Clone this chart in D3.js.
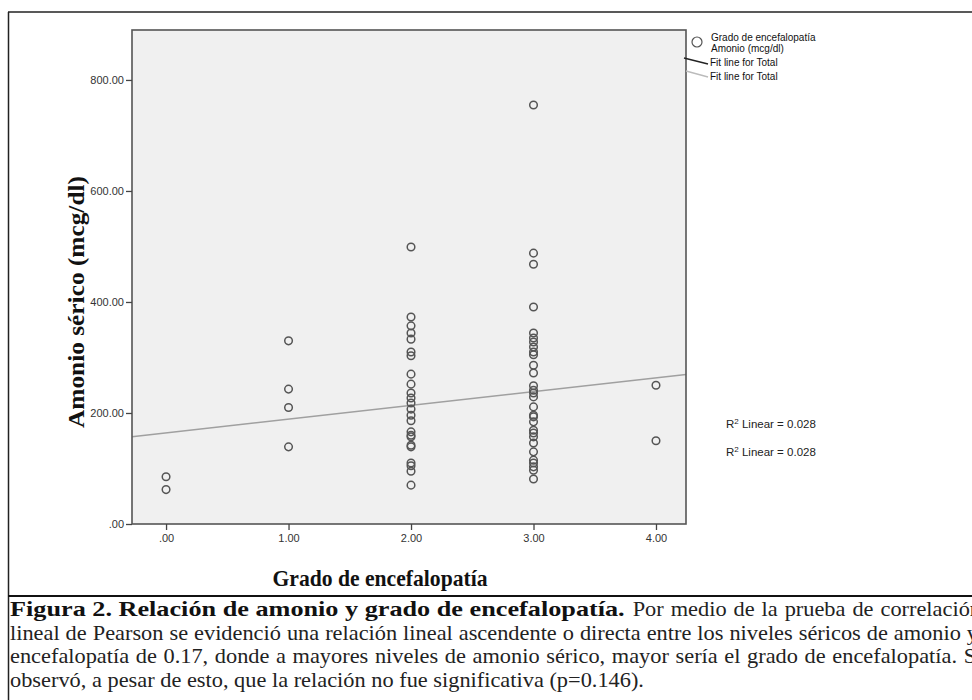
<!DOCTYPE html>
<html>
<head>
<meta charset="utf-8">
<script src="https://cdn.jsdelivr.net/npm/d3@7"></script>
<style>
  html, body { margin: 0; padding: 0; background: #fff; overflow: hidden; }
  svg { display: block; }
</style>
</head>
<body>
<svg id="chart" width="972" height="700"></svg>
<script>
// ---- data ----
const xTicks = [0, 1, 2, 3, 4];
const xTickLabels = [".00", "1.00", "2.00", "3.00", "4.00"];
const yTicks = [0, 200, 400, 600, 800];
const yTickLabels = [".00", "200.00", "400.00", "600.00", "800.00"];
const grade0 = [85, 62];
const grade1 = [330, 243, 210, 139];
const grade2 = [499, 373, 357, 344, 333, 310, 303, 270, 252, 236, 227, 218, 207, 196, 186, 166, 160, 157, 142, 139, 110, 105, 95, 70];
const grade3 = [755, 488, 468, 391, 344, 335, 328, 319, 310, 305, 286, 272, 249, 241, 236, 229, 211, 196, 193, 184, 169, 164, 157, 146, 130, 115, 110, 103, 97, 81];
const grade4 = [250, 150];
const fitLine = [164, 24.8]; // intercept, slope
const legendLabels = ["Grado de encefalopatía", "Amonio (mcg/dl)", "Fit line for Total", "Fit line for Total"];
const r2Labels = ["0.028", "0.028"];
const xTitle = "Grado de encefalopatía";
const yTitle = "Amonio sérico (mcg/dl)";
const captionBold = "Figura 2. Relación de amonio y grado de encefalopatía.";
const captionLines = [
  "Por medio de la prueba de correlación",
  "lineal de Pearson se evidenció una relación lineal ascendente o directa entre los niveles séricos de amonio y",
  "encefalopatía de 0.17, donde a mayores niveles de amonio sérico, mayor sería el grado de encefalopatía. Se",
  "observó, a pesar de esto, que la relación no fue significativa (p=0.146)."
];

// ---- drawing ----
const svg = d3.select("#chart");
const plot = { left: 132, top: 30, right: 686, bottom: 524 };

const x = d3.scaleLinear().domain([-0.278, 4.245]).range([plot.left, plot.right]);
const y = d3.scaleLinear().domain([0, 890]).range([plot.bottom, plot.top]);

// outer frame
svg.append("line").attr("x1", 8).attr("x2", 972).attr("y1", 12).attr("y2", 12)
  .attr("stroke", "#222").attr("stroke-width", 1.5);
svg.append("line").attr("x1", 8.5).attr("x2", 8.5).attr("y1", 12).attr("y2", 700)
  .attr("stroke", "#222").attr("stroke-width", 1.5);
svg.append("line").attr("x1", 8).attr("x2", 972).attr("y1", 596).attr("y2", 596)
  .attr("stroke", "#111").attr("stroke-width", 2);

// plot background
svg.append("rect")
  .attr("x", plot.left).attr("y", plot.top)
  .attr("width", plot.right - plot.left).attr("height", plot.bottom - plot.top)
  .attr("fill", "#f0f0f0");

// fit line
const fx0 = x.domain()[0], fx1 = x.domain()[1];
svg.append("line")
  .attr("x1", x(fx0)).attr("y1", y(fitLine[0] + fitLine[1] * fx0))
  .attr("x2", x(fx1)).attr("y2", y(fitLine[0] + fitLine[1] * fx1))
  .attr("stroke", "#a0a0a0").attr("stroke-width", 1.5);

// points
const groups = [grade0, grade1, grade2, grade3, grade4];
const points = [];
groups.forEach((g, i) => g.forEach(v => points.push({ cat: xTicks[i], v })));
svg.append("g").selectAll("circle").data(points).join("circle")
  .attr("cx", d => x(d.cat)).attr("cy", d => y(d.v)).attr("r", 3.8)
  .attr("fill", "none").attr("stroke", "#555").attr("stroke-width", 1.5);

// plot border
svg.append("rect")
  .attr("x", plot.left).attr("y", plot.top)
  .attr("width", plot.right - plot.left).attr("height", plot.bottom - plot.top)
  .attr("fill", "none").attr("stroke", "#555").attr("stroke-width", 1.6);

// axes
const yAxis = d3.axisLeft(y).tickValues(yTicks)
  .tickFormat((d, i) => yTickLabels[i]).tickSize(6).tickPadding(2);
const gy = svg.append("g").attr("transform", `translate(${plot.left},0)`).call(yAxis);
gy.select(".domain").remove();
gy.selectAll("line").attr("stroke", "#444").attr("stroke-width", 1.3);
gy.selectAll("text").attr("font-family", "Arial, 'Liberation Sans', sans-serif")
  .attr("font-size", 11).attr("fill", "#333");

const xAxis = d3.axisBottom(x).tickValues(xTicks)
  .tickFormat((d, i) => xTickLabels[i]).tickSize(6).tickPadding(4);
const gx = svg.append("g").attr("transform", `translate(0,${plot.bottom})`).call(xAxis);
gx.select(".domain").remove();
gx.selectAll("line").attr("stroke", "#444").attr("stroke-width", 1.3);
gx.selectAll("text").attr("font-family", "Arial, 'Liberation Sans', sans-serif")
  .attr("font-size", 11).attr("fill", "#333");

// axis titles
svg.append("text")
  .attr("transform", "translate(84,302) rotate(-90)")
  .attr("text-anchor", "middle")
  .attr("font-family", "'Liberation Serif', 'Times New Roman', serif")
  .attr("font-weight", "bold").attr("font-size", 23).attr("fill", "#111")
  .attr("textLength", 252).attr("lengthAdjust", "spacingAndGlyphs")
  .text(yTitle);

svg.append("text")
  .attr("x", 380).attr("y", 586).attr("text-anchor", "middle")
  .attr("font-family", "'Liberation Serif', 'Times New Roman', serif")
  .attr("font-weight", "bold").attr("font-size", 23).attr("fill", "#111")
  .attr("textLength", 215).attr("lengthAdjust", "spacingAndGlyphs")
  .text(xTitle);

// legend
const lg = svg.append("g").attr("font-family", "Arial, 'Liberation Sans', sans-serif")
  .attr("font-size", 10).attr("fill", "#111");
lg.append("circle").attr("cx", 697).attr("cy", 42).attr("r", 5)
  .attr("fill", "none").attr("stroke", "#555").attr("stroke-width", 1.2);
lg.append("text").attr("x", 711).attr("y", 41).text(legendLabels[0]);
lg.append("text").attr("x", 711).attr("y", 52).text(legendLabels[1]);
lg.append("line").attr("x1", 684).attr("y1", 58).attr("x2", 708).attr("y2", 64)
  .attr("stroke", "#222").attr("stroke-width", 1.3);
lg.append("text").attr("x", 710).attr("y", 66).text(legendLabels[2]);
lg.append("line").attr("x1", 686).attr("y1", 71).attr("x2", 708).attr("y2", 77)
  .attr("stroke", "#bbb").attr("stroke-width", 1.3);
lg.append("text").attr("x", 710).attr("y", 80).text(legendLabels[3]);

// R² labels
[428, 456].forEach((yy, i) => {
  const t = svg.append("text").attr("x", 726).attr("y", yy)
    .attr("font-family", "Arial, 'Liberation Sans', sans-serif")
    .attr("font-size", 11.5).attr("fill", "#222");
  t.append("tspan").text("R");
  t.append("tspan").attr("font-size", 8).attr("dy", -4).text("2");
  t.append("tspan").attr("dy", 4).text(" Linear = " + r2Labels[i]);
});

// caption: one condensed serif face, justified lines
const capFont = "'Liberation Serif', 'Times New Roman', serif";
const capSize = 22;
const capY = [616, 640, 663, 687];
const probe = svg.append("text").attr("font-family", capFont).attr("font-size", capSize)
  .text(captionLines[1]);
const sx = 962 / probe.node().getComputedTextLength();
probe.remove();

function capText(str, x0, y0, bold, target, stretch) {
  const g = svg.append("g").attr("transform", `translate(${x0},${y0}) scale(${sx},1)`);
  const t = g.append("text").attr("x", 0).attr("y", 0)
    .attr("font-family", capFont).attr("font-size", capSize)
    .attr("font-weight", bold ? "bold" : "normal")
    .attr("fill", bold ? "#111" : "#222").text(str);
  const nat = t.node().getComputedTextLength();
  if (stretch) {
    t.attr("textLength", stretch / sx).attr("lengthAdjust", "spacingAndGlyphs");
    return stretch;
  }
  if (target) {
    const spaces = (str.match(/ /g) || []).length;
    const ws = (target / sx - nat) / spaces;
    if (ws > 0) t.attr("word-spacing", ws);
  }
  return nat * sx;
}
// measure the regular part of line 1 to place the bold run before it
const probe2 = svg.append("text").attr("font-family", capFont).attr("font-size", capSize)
  .text(captionLines[0]);
const regW = probe2.node().getComputedTextLength() * sx;
probe2.remove();
const startReg = 981 - regW - 8;
capText(captionBold, 10, capY[0], true, null, startReg - 8 - 10);
capText(captionLines[0], startReg, capY[0], false, 981 - startReg);
capText(captionLines[1], 10, capY[1], false, 968);
capText(captionLines[2], 10, capY[2], false, 976);
capText(captionLines[3], 10, capY[3], false, null);
</script>
</body>
</html>
